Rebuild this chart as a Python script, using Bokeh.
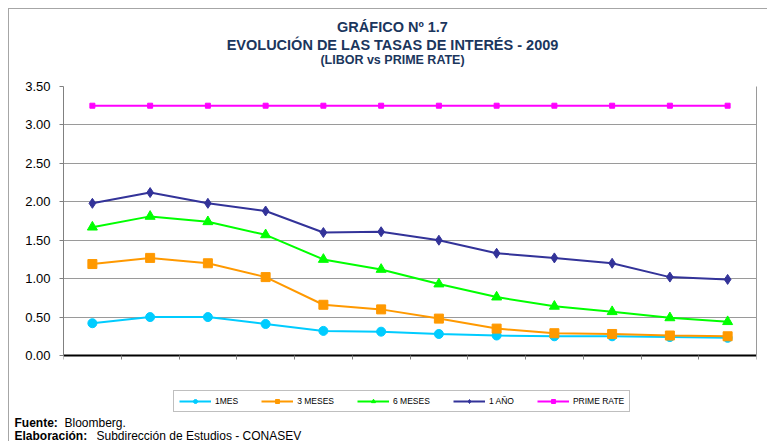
from bokeh.plotting import figure
from bokeh.layouts import column
from bokeh.models import (Range1d, FixedTicker, Label, Legend, LegendItem,
                          NumeralTickFormatter, LinearAxis)
from bokeh.embed import file_html
from bokeh.resources import INLINE

# ---- data ----
months = ["Ene", "Feb", "Mar", "Abr", "May", "Jun", "Jul", "Ago", "Set", "Oct", "Nov", "Dic"]
libor_1mes = [0.42, 0.50, 0.50, 0.41, 0.32, 0.31, 0.28, 0.26, 0.25, 0.25, 0.24, 0.23]
libor_3meses = [1.19, 1.27, 1.20, 1.02, 0.66, 0.60, 0.48, 0.35, 0.29, 0.28, 0.26, 0.25]
libor_6meses = [1.67, 1.81, 1.74, 1.57, 1.25, 1.12, 0.93, 0.76, 0.64, 0.57, 0.49, 0.44]
libor_1anio = [1.98, 2.12, 1.98, 1.88, 1.60, 1.61, 1.50, 1.33, 1.27, 1.20, 1.02, 0.99]
prime_rate = [3.25, 3.25, 3.25, 3.25, 3.25, 3.25, 3.25, 3.25, 3.25, 3.25, 3.25, 3.25]
y_ticks = [0.0, 0.5, 1.0, 1.5, 2.0, 2.5, 3.0, 3.5]
series_names = ["1MES", "3 MESES", "6 MESES", "1 AÑO", "PRIME RATE"]

title_lines = ["GRÁFICO Nº 1.7", "EVOLUCIÓN DE LAS TASAS DE INTERÉS - 2009", "(LIBOR vs PRIME RATE)"]
footer_parts = [("Fuente:", "Bloomberg."), ("Elaboración:", "Subdirección  de  Estudios - CONASEV")]

xs = [i + 0.5 for i in range(len(months))]

FONT = "Liberation Sans"
W = 758
GRID = "#9A9A9A"


def blank_fig(h):
    f = figure(width=W, height=h, x_range=Range1d(0, W), y_range=Range1d(0, h),
               x_axis_type=None, y_axis_type=None, min_border=0,
               output_backend="svg", toolbar_location=None)
    f.grid.visible = False
    f.outline_line_color = None
    f.background_fill_color = "white"
    f.border_fill_color = "white"
    f.frame_align = False
    return f


# ---- title block ----
TH = 67
top = blank_fig(TH)
tcolor = "#1B365D"
for text, ypos, size in zip(title_lines, [49.3, 31.3, 16.5], ["14.5px", "14.5px", "12.5px"]):
    top.add_layout(Label(x=383, y=ypos, text=text, text_align="center", text_baseline="alphabetic",
                         text_font=FONT, text_font_style="bold", text_font_size=size, text_color=tcolor))

# ---- main chart (frame extended downward to hold the legend) ----
y_max = 3.5
plot_px = 269      # pixels used by 0..3.5
legend_px = 58     # extra room below 0 for the legend
y_min = -y_max * legend_px / plot_px

p = figure(frame_width=693, frame_height=plot_px + legend_px,
           min_border_left=54, min_border_right=11, min_border_top=10, min_border_bottom=0,
           x_range=Range1d(0, len(months)), y_range=Range1d(y_min, y_max),
           x_axis_location="above",
           output_backend="svg", toolbar_location=None)
p.frame_align = False
p.background_fill_color = "white"
p.border_fill_color = "white"
p.outline_line_color = None

# x axis drawn at y = 0, ticks pointing down
p.xaxis.fixed_location = 0
p.xaxis.ticker = FixedTicker(ticks=list(range(len(months) + 1)))
p.xaxis.major_label_overrides = {i: "" for i in range(len(months) + 1)}
p.xaxis.major_label_text_font_size = "1px"
p.xaxis.major_label_standoff = 0
p.xaxis.axis_line_color = "black"
p.xaxis.axis_line_width = 2
p.xaxis.major_tick_line_color = "#808080"
p.xaxis.major_tick_in = 4
p.xaxis.major_tick_out = 0
p.xaxis.minor_tick_line_color = None

p.yaxis.ticker = FixedTicker(ticks=y_ticks)
p.yaxis.bounds = (0, y_max)
p.yaxis.formatter = NumeralTickFormatter(format="0.00")
p.yaxis.axis_line_color = "#808080"
p.yaxis.major_tick_line_color = "#808080"
p.yaxis.major_tick_in = 0
p.yaxis.major_tick_out = 4
p.yaxis.minor_tick_line_color = None
p.yaxis.major_label_standoff = 9
p.yaxis.major_label_text_font = FONT
p.yaxis.major_label_text_font_size = "13px"
p.yaxis.major_label_text_color = "black"

right = LinearAxis(ticker=FixedTicker(ticks=[]), bounds=(0, y_max),
                   axis_line_color=GRID, major_tick_out=0, major_tick_in=0,
                   minor_tick_line_color=None, major_label_standoff=0,
                   major_label_text_font_size="1px")
p.add_layout(right, "right")

p.xgrid.grid_line_color = None
p.ygrid.ticker = FixedTicker(ticks=y_ticks)
p.ygrid.grid_line_color = GRID
p.ygrid.grid_line_width = 1

specs = [
    (libor_1mes, "#00CCFF", "circle", 9),
    (libor_3meses, "#FF9900", "square", 9),
    (libor_6meses, "#00FF00", "triangle", 10),
    (libor_1anio, "#333399", "diamond", 10),
    (prime_rate, "#FF00FF", "square", 5),
]
items = []
for (vals, color, marker, size), name in zip(specs, series_names):
    ln = p.line(xs, vals, line_color=color, line_width=2)
    sc = p.scatter(xs, vals, marker=marker, size=size, fill_color=color, line_color=color)
    items.append(LegendItem(label=name, renderers=[ln, sc]))

legend = Legend(items=items, orientation="horizontal", location=(110, 1),
                border_line_color="#808080", border_line_width=1,
                label_text_font=FONT, label_text_font_size="8.5px", label_text_color="black",
                glyph_width=32, glyph_height=10, label_standoff=4, spacing=23,
                padding=5, margin=0, background_fill_color="white")
p.add_layout(legend)

# ---- footer ----
FH = 28
foot = blank_fig(FH)
for (bold, rest), ypos, xrest in zip(footer_parts, [18.5, 5.5], [55, 87]):
    foot.add_layout(Label(x=5, y=ypos, text=bold, text_align="left", text_baseline="alphabetic",
                          text_font=FONT, text_font_style="bold", text_font_size="12px", text_color="black"))
    foot.add_layout(Label(x=xrest, y=ypos, text=rest, text_align="left", text_baseline="alphabetic",
                          text_font=FONT, text_font_style="normal", text_font_size="12px", text_color="black"))

layout = column(top, p, foot, spacing=0, margin=(8, 0, 0, 8),
                styles={"border-left": "1px solid #A6A6A6", "border-top": "1px solid #A6A6A6"})

open("out.html", "w").write(file_html(layout, INLINE))
